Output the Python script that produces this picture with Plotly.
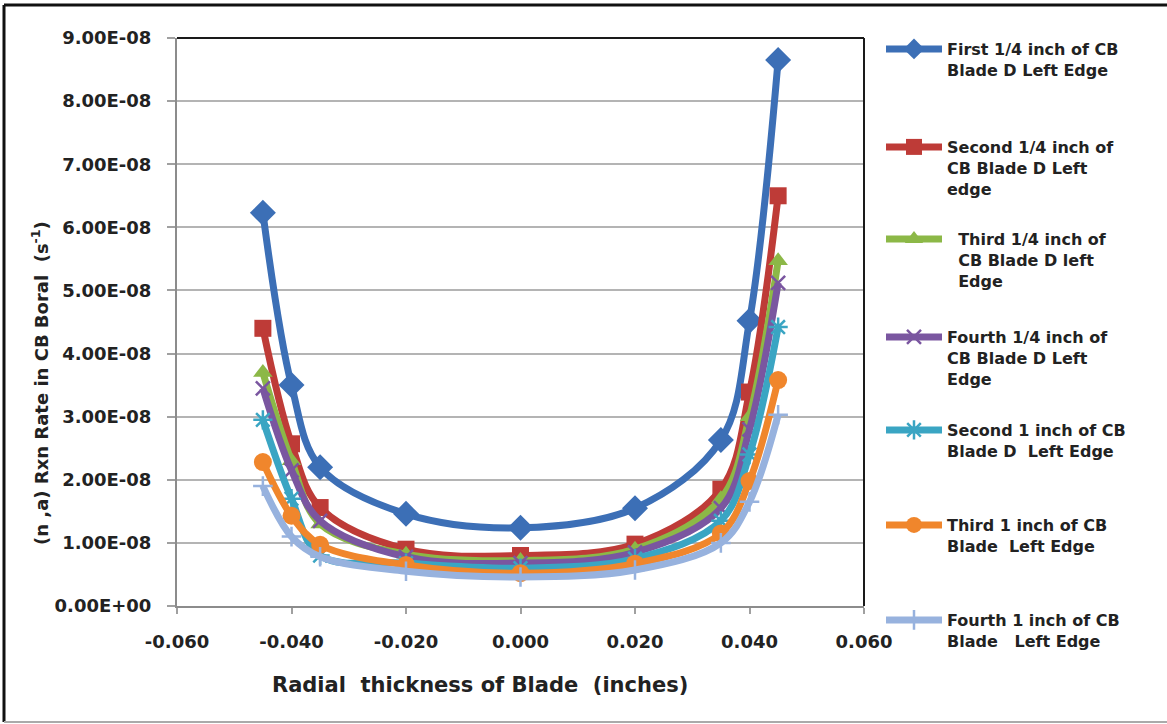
import plotly.graph_objects as go

# ---- data ----
x_vals = [-0.045, -0.040, -0.035, -0.020, 0.000, 0.020, 0.035, 0.040, 0.045]

first_quarter = [6.23e-08, 3.50e-08, 2.20e-08, 1.46e-08, 1.24e-08, 1.55e-08, 2.63e-08, 4.52e-08, 8.65e-08]
second_quarter = [4.40e-08, 2.57e-08, 1.56e-08, 0.90e-08, 0.80e-08, 0.98e-08, 1.85e-08, 3.39e-08, 6.50e-08]
third_quarter = [3.70e-08, 2.30e-08, 1.30e-08, 0.82e-08, 0.72e-08, 0.90e-08, 1.70e-08, 3.00e-08, 5.47e-08]
fourth_quarter = [3.45e-08, 2.15e-08, 1.35e-08, 0.78e-08, 0.68e-08, 0.85e-08, 1.55e-08, 2.80e-08, 5.12e-08]
second_inch = [2.95e-08, 1.70e-08, 0.80e-08, 0.68e-08, 0.60e-08, 0.75e-08, 1.35e-08, 2.40e-08, 4.42e-08]
third_inch = [2.28e-08, 1.43e-08, 0.97e-08, 0.65e-08, 0.52e-08, 0.67e-08, 1.15e-08, 1.98e-08, 3.58e-08]
fourth_inch = [1.90e-08, 1.10e-08, 0.78e-08, 0.55e-08, 0.46e-08, 0.57e-08, 1.00e-08, 1.65e-08, 3.03e-08]

series_names = [
    "First 1/4 inch of CB<br>Blade D Left Edge",
    "Second 1/4 inch of<br>CB Blade D Left<br>edge",
    "\u00a0\u00a0Third 1/4 inch of<br>\u00a0\u00a0CB Blade D left<br>\u00a0\u00a0Edge",
    "Fourth 1/4 inch of<br>CB Blade D Left<br>Edge",
    "Second 1 inch of CB<br>Blade D\u00a0\u00a0Left Edge",
    "Third 1 inch of CB<br>Blade\u00a0\u00a0Left Edge",
    "Fourth 1 inch of CB<br>Blade\u00a0\u00a0\u00a0Left Edge",
]
series_values = [first_quarter, second_quarter, third_quarter, fourth_quarter,
                 second_inch, third_inch, fourth_inch]

x_tick_vals = [-0.060, -0.040, -0.020, 0.000, 0.020, 0.040, 0.060]
x_tick_text = ["-0.060", "-0.040", "-0.020", "0.000", "0.020", "0.040", "0.060"]
y_tick_vals = [0, 1e-08, 2e-08, 3e-08, 4e-08, 5e-08, 6e-08, 7e-08, 8e-08, 9e-08]
y_tick_text = [f"{v:.2E}" for v in y_tick_vals]

# ---- styles ----
colors = ["#3C6FB6", "#BE3B37", "#8CB847", "#7A56A0", "#3AA5C3", "#F0862C", "#97B2DE"]
symbols = ["diamond", "square", "triangle-up", "x-thin", "asterisk", "circle", "cross-thin"]
msizes = [20, 17, 17, 14, 16, 18, 14]
legend_ids = ["legend", "legend2", "legend3", "legend4", "legend5", "legend6", "legend7"]
legend_line_y = [47, 145, 237, 335, 428, 523, 618]

W, H = 1167, 724
L, R, T, B = 177, 864, 38, 606
pw, ph = R - L, B - T

def px_x(px):
    return (px - L) / pw

def px_y(py):
    return (B - py) / ph

FONT = "DejaVu Sans"

fig = go.Figure()
for name, vals, c, s, ms, lid in zip(series_names, series_values, colors, symbols, msizes, legend_ids):
    thin = s in ("x-thin", "asterisk", "cross-thin")
    fig.add_trace(go.Scatter(
        x=x_vals, y=vals, name=name, mode="lines+markers",
        line=dict(color=c, width=7, shape="spline", smoothing=1.0),
        marker=dict(symbol=s, size=ms, color=c,
                    line=dict(color=c, width=2.5 if thin else 0)),
        legend=lid,
    ))

layout_legends = {}
for lid, ly in zip(legend_ids, legend_line_y):
    layout_legends[lid] = dict(
        x=px_x(881), xanchor="left", y=px_y(ly - 15), yanchor="top",
        valign="top", itemwidth=56, bgcolor="rgba(0,0,0,0)",
        font=dict(family=FONT, size=16, color="#222222", weight="bold"),
        tracegroupgap=0,
    )

fig.update_layout(
    width=W, height=H,
    margin=dict(l=L, r=W - R, t=T, b=H - B, autoexpand=False),
    paper_bgcolor="white", plot_bgcolor="white",
    showlegend=True,
    **layout_legends,
    xaxis=dict(
        range=[-0.060, 0.060], tickvals=x_tick_vals, ticktext=x_tick_text,
        showgrid=False, zeroline=False, showline=True, linecolor="#8C8C8C", linewidth=2,
        ticks="outside", ticklen=6, tickcolor="#A0A0A0", tickwidth=1.5,
        ticklabelstandoff=12,
        tickfont=dict(family=FONT, size=18, color="#222222", weight="bold"),
    ),
    yaxis=dict(
        range=[0, 9e-08], tickvals=y_tick_vals, ticktext=y_tick_text,
        showgrid=True, gridcolor="#B4B4B4", gridwidth=1.5, zeroline=False,
        showline=True, linecolor="#8C8C8C", linewidth=2,
        ticks="outside", ticklen=8, tickcolor="#A0A0A0", tickwidth=1.5,
        ticklabelstandoff=12,
        tickfont=dict(family=FONT, size=18, color="#222222", weight="bold"),
    ),
    annotations=[
        dict(text="Radial  thickness of Blade  (inches)", xref="paper", yref="paper",
             x=px_x(480), y=px_y(685), showarrow=False, xanchor="center", yanchor="middle",
             font=dict(family=FONT, size=21, color="#222222", weight="bold")),
        dict(text="(n ,a) Rxn Rate in CB Boral  (s<sup>-1</sup>)", xref="paper", yref="paper",
             x=px_x(40), y=px_y(383), showarrow=False, textangle=-90,
             xanchor="center", yanchor="middle",
             font=dict(family=FONT, size=18, color="#222222", weight="bold")),
    ],
    shapes=[
        # plot-area top and right border
        dict(type="line", xref="paper", yref="paper", x0=0, x1=1, y0=1, y1=1,
             line=dict(color="#1A1A1A", width=2)),
        dict(type="line", xref="paper", yref="paper", x0=1, x1=1, y0=0, y1=1,
             line=dict(color="#1A1A1A", width=2)),
        # outer chart frame
        dict(type="line", xref="paper", yref="paper", x0=px_x(4), x1=px_x(4),
             y0=px_y(5), y1=px_y(722), line=dict(color="#111111", width=3)),
        dict(type="line", xref="paper", yref="paper", x0=px_x(4), x1=px_x(1167),
             y0=px_y(5), y1=px_y(5), line=dict(color="#111111", width=3)),
        dict(type="line", xref="paper", yref="paper", x0=px_x(4), x1=px_x(1167),
             y0=px_y(722), y1=px_y(722), line=dict(color="#AAAAAA", width=2)),
    ],
)

fig.write_html(
    "out.html",
    config={"displayModeBar": False},
    post_script="document.body.style.margin='0';document.body.style.overflow='hidden';",
)
